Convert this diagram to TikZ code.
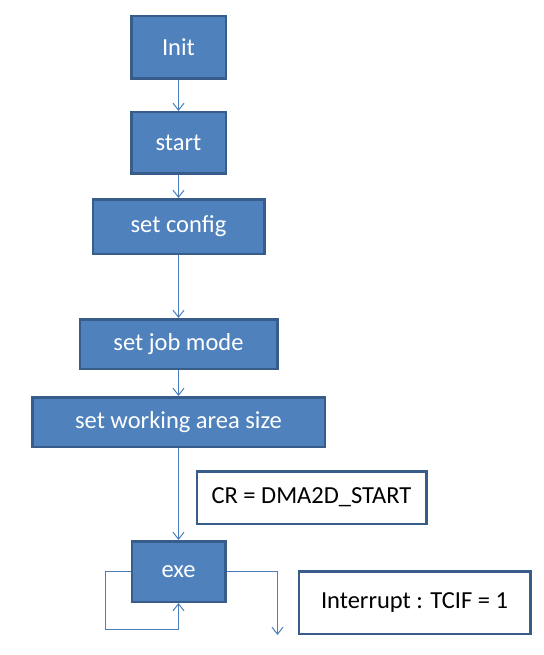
\documentclass[tikz,border=0pt]{standalone}
\usepackage{fontspec}
\setmainfont{Carlito}
\usepackage{xcolor}
\usetikzlibrary{positioning, arrows.meta}

\definecolor{boxfill}{HTML}{4F81BD}
\definecolor{boxline}{HTML}{385D8A}
\definecolor{arrline}{HTML}{4A7EBB}

\begin{document}
\begin{tikzpicture}[
        x=1pt, y=1pt,
        every node/.style={font=\fontsize{24.5}{29}\selectfont, inner sep=0pt},
        stepbox/.style={draw=boxline, fill=boxfill, line width=2.5pt, text=white, align=center},
        regbox/.style={draw=boxline, fill=white, line width=2.5pt, text=black, align=center},
        arrow/.style={-{Straight Barb[length=7pt, width=11pt]}, draw=arrline, line width=1pt}
    ]
    \useasboundingbox (0,0) rectangle (543,-655);

    % Nodes -----------------------------------------------
    \node[stepbox, minimum width=94.5pt, minimum height=62.5pt] at (178.5,-47.5) (init) {Init};
    \node[stepbox, minimum width=94.5pt, minimum height=61.5pt, below=31pt of init] (start) {start};
    \node[stepbox, minimum width=171.5pt, minimum height=54.5pt, below=23pt of start] (config) {set config};
    \node[stepbox, minimum width=197.5pt, minimum height=49.5pt, below=63pt of config] (jobmode) {set job mode};
    \node[stepbox, minimum width=292.5pt, minimum height=49.5pt, below=26pt of jobmode] (area) {set working area size};
    \node[stepbox, minimum width=93.5pt, minimum height=60.5pt, below=92pt of area] (exe) {exe};
    \node[regbox, minimum width=229.5pt, minimum height=52.5pt, below right=22pt and 17pt of area.south] (cr) {CR = DMA2D\_START};
    \node[regbox, minimum width=231.5pt, minimum height=62.5pt, below right=30pt and 71pt of exe.north east] (intr) {Interrupt : TCIF = 1};
    \coordinate[below=26pt of exe] (loopend);
    \coordinate[below right=63.5pt and 51pt of exe.east] (done);

      % main flow
      \draw[arrow] (init) -- (start);
      \draw[arrow] (start) -- (config);
      \draw[arrow] (config) -- (jobmode);
      \draw[arrow] (jobmode) -- (area);
      \draw[arrow] (area) -- (exe);

      % polling loop and exit
      \draw[arrow] (exe.west) -- ++(-25pt,0) |- (loopend) -- (exe.south);
      \draw[arrow] (exe.east) -| (done);
\end{tikzpicture}
\end{document}
